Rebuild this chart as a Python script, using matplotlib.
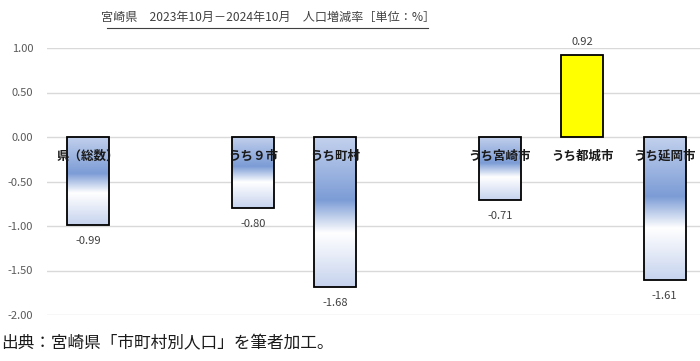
import numpy as np
import matplotlib.pyplot as plt
from matplotlib.colors import LinearSegmentedColormap
from matplotlib.lines import Line2D

plt.rcParams['font.family'] = ['Noto Sans CJK JP', 'DejaVu Sans']

# data
categories = ['県（総数）', '', 'うち９市', 'うち町村', '', 'うち宮崎市', 'うち都城市', 'うち延岡市']
values = [-0.99, None, -0.80, -1.68, None, -0.71, 0.92, -1.61]
y_ticks = [1.00, 0.50, 0.00, -0.50, -1.00, -1.50, -2.00]

title = '宮崎県　2023年10月－2024年10月　人口増減率［単位：%］'
source = '出典：宮崎県「市町村別人口」を筆者加工。'

# gradient used for the negative bars (top -> bottom)
grad_cmap = LinearSegmentedColormap.from_list(
    'bar_grad',
    [(0.0, '#c3d1ed'), (0.42, '#7c9cd6'), (0.64, '#ffffff'), (1.0, '#c6d3ee')])

fig = plt.figure(figsize=(7.0, 3.61), dpi=100)
ax = fig.add_axes([47 / 700, 1 - 315 / 361, 653 / 700, 267 / 361])

for x, v in enumerate(values):
    if v is None:
        continue
    if v >= 0:
        ax.bar(x, v, width=0.51, color='#ffff00', edgecolor='black', linewidth=1.3, zorder=3)
        ax.annotate(f'{v:.2f}', (x, v), xytext=(0, 6), textcoords='offset points',
                    ha='center', va='bottom', fontsize=8, color='#404040')
    else:
        bar = ax.bar(x, v, width=0.51, facecolor='none', edgecolor='black', linewidth=1.3, zorder=3)[0]
        grad = np.linspace(0, 1, 256).reshape(-1, 1)
        im = ax.imshow(grad, cmap=grad_cmap, aspect='auto', zorder=2,
                       extent=[x - 0.255, x + 0.255, v, 0])
        im.set_clip_path(bar)
        ax.annotate(f'{v:.2f}', (x, v), xytext=(0, -8), textcoords='offset points',
                    ha='center', va='top', fontsize=8, color='#404040')
    ax.text(x, -0.22, categories[x], ha='center', va='center', fontsize=9,
            fontweight='bold', color='#1a1a1a', zorder=4)

ax.set_xlim(-0.5, 7.43)
ax.set_ylim(-2.0, 1.0)
ax.set_yticks(y_ticks)
ax.set_yticklabels([f'{t:.2f}' for t in y_ticks])
ax.set_xticks([])
ax.tick_params(axis='y', length=0, pad=10, labelsize=8, labelcolor='#595959')
ax.grid(axis='y', color='#d9d9d9', linewidth=1)
ax.set_axisbelow(True)
for s in ax.spines.values():
    s.set_visible(False)

# title with underline
fig.text(268 / 700, 1 - 17 / 361, title, ha='center', va='center', fontsize=8.7, color='#404040')
fig.add_artist(Line2D([107 / 700, 428 / 700], [1 - 28 / 361, 1 - 28 / 361],
                      color='#404040', linewidth=0.8))

fig.text(1 / 700, 1 - 344 / 361, source, ha='left', va='center', fontsize=12, color='#1a1a1a')

fig.savefig('out.png', dpi=100)
